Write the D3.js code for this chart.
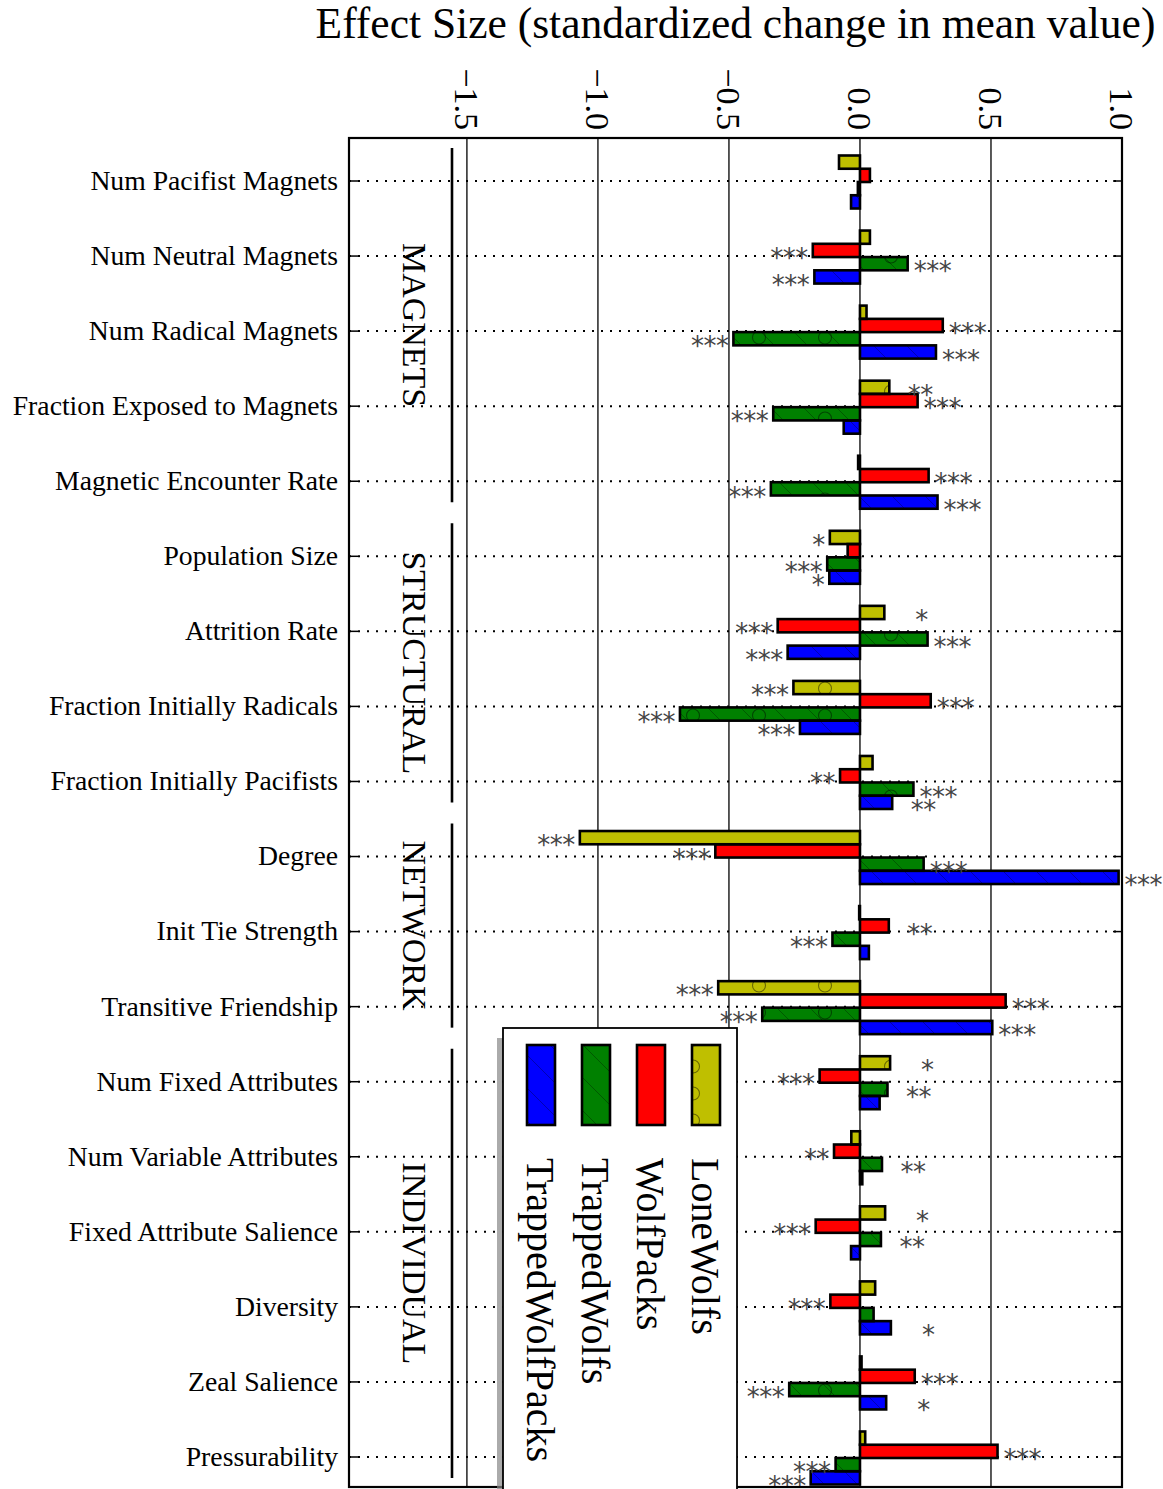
<!DOCTYPE html>
<html>
<head>
<meta charset="utf-8">
<script src="https://cdn.jsdelivr.net/npm/d3@7"></script>
<style>
    body { margin: 0; background: #fff; }
    text { font-family: "Liberation Serif", "Times New Roman", serif; fill: #000; }
</style>
</head>
<body>
<div id="chart"></div>
<script>
// categories, top to bottom
const categories = [
    "Num Pacifist Magnets", "Num Neutral Magnets", "Num Radical Magnets",
    "Fraction Exposed to Magnets", "Magnetic Encounter Rate", "Population Size",
    "Attrition Rate", "Fraction Initially Radicals", "Fraction Initially Pacifists",
    "Degree", "Init Tie Strength", "Transitive Friendship", "Num Fixed Attributes",
    "Num Variable Attributes", "Fixed Attribute Salience", "Diversity",
    "Zeal Salience", "Pressurability"
];
const seriesNames = ["LoneWolfs", "WolfPacks", "TrappedWolfs", "TrappedWolfPacks"];

// effect sizes per series
const loneWolfs        = [-0.08, 0.038, 0.025, 0.112, -0.007, -0.115, 0.093, -0.254, 0.048, -1.069, -0.003, -0.541, 0.115, -0.033, 0.096, 0.058, 0.006, 0.02];
const wolfPacks        = [0.038, -0.18, 0.316, 0.22, 0.262, -0.047, -0.314, 0.27, -0.076, -0.552, 0.11, 0.556, -0.154, -0.099, -0.169, -0.113, 0.209, 0.525];
const trappedWolfs     = [-0.008, 0.182, -0.483, -0.331, -0.34, -0.125, 0.258, -0.687, 0.204, 0.243, -0.105, -0.373, 0.105, 0.084, 0.08, 0.052, -0.27, -0.093];
const trappedWolfPacks = [-0.034, -0.174, 0.29, -0.062, 0.296, -0.117, -0.276, -0.229, 0.123, 0.987, 0.034, 0.505, 0.075, 0.009, -0.034, 0.118, 0.10, -0.188];

// significance stars per series
const loneWolfsStars        = ["", "", "", "**", "", "*", "*", "***", "", "***", "", "***", "*", "", "*", "", "", ""];
const wolfPacksStars        = ["", "***", "***", "***", "***", "", "***", "***", "**", "***", "**", "***", "***", "**", "***", "***", "***", "***"];
const trappedWolfsStars     = ["", "***", "***", "***", "***", "***", "***", "***", "***", "***", "***", "***", "**", "**", "**", "", "***", "***"];
const trappedWolfPacksStars = ["", "***", "***", "", "***", "*", "***", "***", "**", "***", "", "***", "", "", "", "*", "*", "***"];

// category groups
const groupNames = ["MAGNETS", "STRUCTURAL", "NETWORK", "INDIVIDUAL"];
const groupSizes = [5, 4, 3, 6];

// x axis
const xTicks = [-1.5, -1.0, -0.5, 0.0, 0.5, 1.0];
const xTickLabels = ["\u22121.5", "\u22121.0", "\u22120.5", "0.0", "0.5", "1.0"];
const xTitle = "Effect Size (standardized change in mean value)";

class EffectChart {
    constructor() {
        this.width = 1163;
        this.height = 1489;
        this.plot = {left: 349, right: 1122, top: 138, bottom: 1487};
        this.colors = {"LoneWolfs": "#bfbf00", "WolfPacks": "#ff0000", "TrappedWolfs": "#008000", "TrappedWolfPacks": "#0000ff"};
        this.hatches = {"LoneWolfs": ["circles"], "WolfPacks": [], "TrappedWolfs": ["circles", "lines"], "TrappedWolfPacks": ["lines"]};

        let values = [loneWolfs, wolfPacks, trappedWolfs, trappedWolfPacks];
        let stars = [loneWolfsStars, wolfPacksStars, trappedWolfsStars, trappedWolfPacksStars];
        this.bars = [];
        categories.forEach((c, i) => {
            seriesNames.forEach((s, k) => {
                this.bars.push({cat: c, series: s, value: values[k][i], stars: stars[k][i]});
            });
        });

        this.svg = d3.select('#chart').append('svg')
            .attr("width", this.width)
            .attr("height", this.height);
        this.setupScales();
        this.createDefs();
        this.createGrid();
        this.createBars();
        this.createAxes();
        this.createGroups();
        this.createLegend();
    }

    setupScales() {
        this.x = d3.scaleLinear().domain([-1.95, 1.0]).range([this.plot.left, this.plot.right]);
        this.y = d3.scalePoint().domain(categories).range([181, 1457]);
        // bars inside one category
        this.ySub = d3.scaleBand().domain(seriesNames).range([-25.5, 27.5]);
    }

    createDefs() {
        let defs = this.svg.append("defs");
        let circ = defs.append("pattern").attr("id", "circles")
            .attr("patternUnits", "userSpaceOnUse")
            .attr("width", 66).attr("height", 27);
        circ.append("circle").attr("cx", 33).attr("cy", 13.5).attr("r", 6.5)
            .attr("fill", "none").attr("stroke", "rgba(0,0,0,0.45)").attr("stroke-width", 1.1);
        let lines = defs.append("pattern").attr("id", "lines")
            .attr("patternUnits", "userSpaceOnUse")
            .attr("width", 33).attr("height", 33);
        lines.append("path").attr("d", "M-3,-3L36,36M-3,30L3,36M30,-3L36,3")
            .attr("stroke", "rgba(0,0,0,0.3)").attr("stroke-width", 1);
    }

    createGrid() {
        let grid = this.svg.append("g").attr("id", "grid");
        grid.selectAll("line.vgrid").data(xTicks.slice(0, -1)).join("line")
            .attr("class", "vgrid")
            .attr("x1", d => this.x(d)).attr("x2", d => this.x(d))
            .attr("y1", this.plot.top).attr("y2", this.plot.bottom)
            .attr("stroke", "#000").attr("stroke-width", 1.3);
        grid.selectAll("line.hgrid").data(categories).join("line")
            .attr("class", "hgrid")
            .attr("x1", this.plot.left).attr("x2", this.plot.right)
            .attr("y1", d => this.y(d)).attr("y2", d => this.y(d))
            .attr("stroke", "#000").attr("stroke-width", 2)
            .attr("stroke-dasharray", "2,7");
    }

    createBars() {
        let that = this;
        let g = this.svg.append("g").attr("id", "bars");
        let rectOf = sel => sel
            .attr("x", d => Math.min(that.x(0), that.x(d.value)))
            .attr("y", d => that.y(d.cat) + that.ySub(d.series))
            .attr("width", d => Math.abs(that.x(d.value) - that.x(0)))
            .attr("height", this.ySub.bandwidth());

        rectOf(g.selectAll("rect.fill").data(this.bars).join("rect").attr("class", "fill"))
            .attr("fill", d => that.colors[d.series]);
        // hatch overlays
        ["circles", "lines"].forEach(h => {
            rectOf(g.selectAll("rect.h-" + h).data(this.bars.filter(d => that.hatches[d.series].includes(h)))
                .join("rect").attr("class", "h-" + h))
                .attr("fill", "url(#" + h + ")");
        });
        rectOf(g.selectAll("rect.edge").data(this.bars).join("rect").attr("class", "edge"))
            .attr("fill", "none").attr("stroke", "#000").attr("stroke-width", 2.6);

        // stars, padded to three characters on the positive side
        let charW = 12.5;
        g.selectAll("text.stars").data(this.bars.filter(d => d.stars !== "")).join("text")
            .attr("class", "stars")
            .attr("x", d => d.value < 0 ? that.x(d.value) - 5 : that.x(d.value) + 6 + (3 - d.stars.length) * charW)
            .attr("y", d => that.y(d.cat) + that.ySub(d.series) + that.ySub.bandwidth() / 2)
            .attr("dy", "0.64em")
            .attr("text-anchor", d => d.value < 0 ? "end" : "start")
            .style("font-family", "'DejaVu Sans', sans-serif")
            .style("font-size", "26px")
            .style("letter-spacing", "-0.5px")
            .style("fill", "#444")
            .text(d => d.stars);
    }

    createAxes() {
        let p = this.plot;
        let axes = this.svg.append("g").attr("id", "axes");
        // frame
        axes.append("rect")
            .attr("x", p.left).attr("y", p.top)
            .attr("width", p.right - p.left).attr("height", p.bottom - p.top)
            .attr("fill", "none").attr("stroke", "#000").attr("stroke-width", 2.2);
        // inward ticks on both sides
        axes.selectAll("line.lt").data(categories).join("line").attr("class", "lt")
            .attr("x1", p.left).attr("x2", p.left + 9)
            .attr("y1", d => this.y(d)).attr("y2", d => this.y(d))
            .attr("stroke", "#000").attr("stroke-width", 1.5);
        axes.selectAll("line.rt").data(categories).join("line").attr("class", "rt")
            .attr("x1", p.right - 9).attr("x2", p.right)
            .attr("y1", d => this.y(d)).attr("y2", d => this.y(d))
            .attr("stroke", "#000").attr("stroke-width", 1.5);
        // category labels
        axes.selectAll("text.cat").data(categories).join("text").attr("class", "cat")
            .attr("x", p.left - 11)
            .attr("y", d => this.y(d))
            .attr("dy", "0.32em")
            .attr("text-anchor", "end")
            .style("font-size", "27.7px")
            .text(d => d);
        // rotated x tick labels
        axes.selectAll("text.xt").data(xTicks).join("text").attr("class", "xt")
            .attr("transform", d => "translate(" + this.x(d) + "," + (p.top - 8) + ") rotate(90)")
            .attr("dy", "0.34em")
            .attr("text-anchor", "end")
            .style("font-size", "34px")
            .text((d, i) => xTickLabels[i]);
        // title
        axes.append("text")
            .attr("x", (p.left + p.right) / 2)
            .attr("y", 38)
            .attr("text-anchor", "middle")
            .style("font-size", "43.5px")
            .text(xTitle);
    }

    createGroups() {
        let that = this;
        let groups = [];
        let start = 0;
        groupNames.forEach((name, i) => {
            groups.push({name: name, first: categories[start], last: categories[start + groupSizes[i] - 1]});
            start += groupSizes[i];
        });
        let step = this.y.step();
        let g = this.svg.append("g").attr("id", "groups");
        g.selectAll("line").data(groups).join("line")
            .attr("x1", 452).attr("x2", 452)
            .attr("y1", d => that.y(d.first) - 0.44 * step)
            .attr("y2", d => that.y(d.last) + 0.28 * step)
            .attr("stroke", "#000").attr("stroke-width", 2.6);
        g.selectAll("text").data(groups).join("text")
            .attr("transform", d => {
                let cy = (that.y(d.first) - 0.44 * step + that.y(d.last) + 0.28 * step) / 2;
                return "translate(415," + cy + ") rotate(90)";
            })
            .attr("dy", "0.34em")
            .attr("text-anchor", "middle")
            .style("font-size", "34px")
            .text(d => d.name);
    }

    createLegend() {
        let that = this;
        let box = {x: 503, y: 1028, w: 234, h: 480};
        let lg = this.svg.append("g").attr("id", "legend");
        lg.append("rect")
            .attr("x", box.x - 6).attr("y", box.y + 10)
            .attr("width", box.w).attr("height", box.h)
            .attr("fill", "#888").attr("opacity", 0.7);
        lg.append("rect")
            .attr("x", box.x).attr("y", box.y)
            .attr("width", box.w).attr("height", box.h)
            .attr("fill", "#fff").attr("stroke", "#000").attr("stroke-width", 1.8);

        // entries run right to left
        let lx = d3.scalePoint().domain(seriesNames).range([706, 541]);
        let entries = lg.selectAll("g.entry").data(seriesNames).join("g").attr("class", "entry");
        let sw = sel => sel
            .attr("x", d => lx(d) - 14).attr("y", 1045)
            .attr("width", 28).attr("height", 80);
        sw(entries.append("rect")).attr("fill", d => that.colors[d]);
        entries.each(function(d) {
            that.hatches[d].forEach(h => {
                sw(d3.select(this).append("rect")).attr("fill", "url(#" + h + ")");
            });
        });
        sw(entries.append("rect")).attr("fill", "none").attr("stroke", "#000").attr("stroke-width", 2.6);
        entries.append("text")
            .attr("transform", d => "translate(" + lx(d) + ",1158) rotate(90)")
            .attr("dy", "0.34em")
            .style("font-size", "40px")
            .text(d => d);
    }
}

new EffectChart();
</script>
</body>
</html>
